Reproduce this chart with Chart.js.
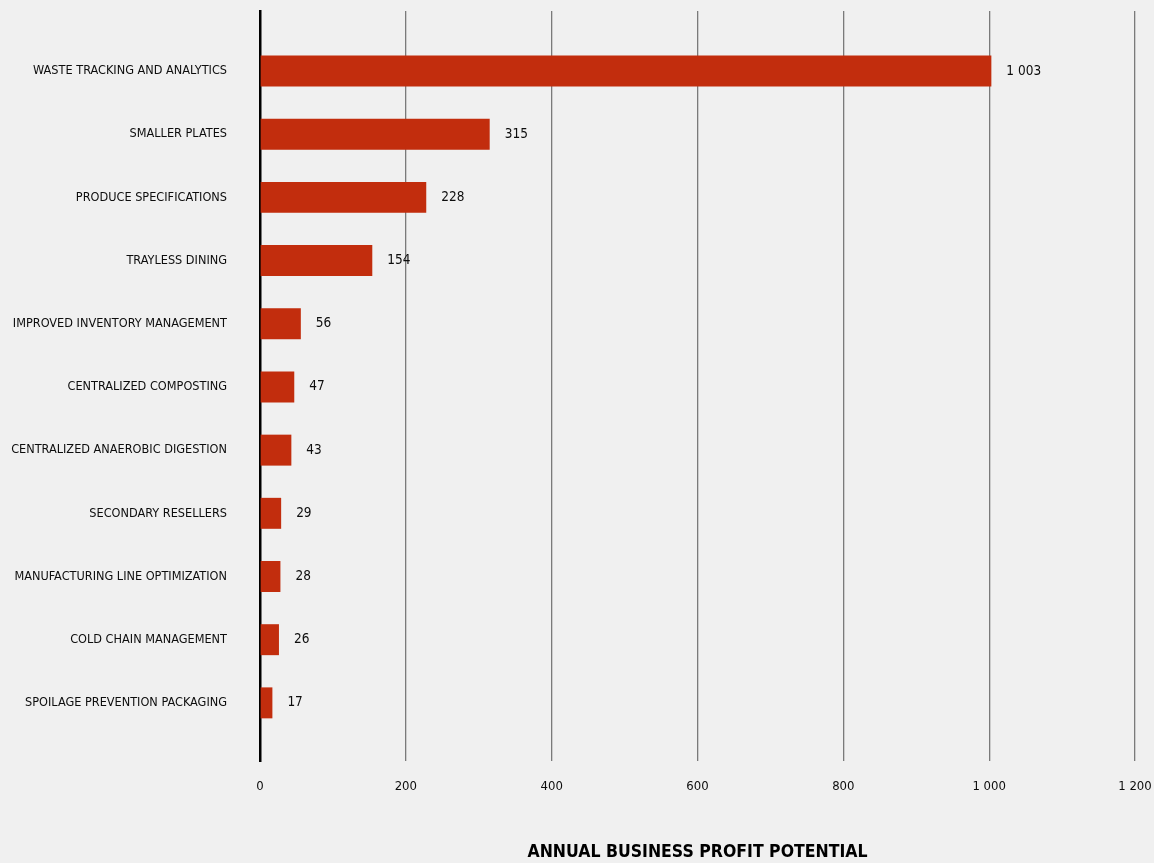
<!DOCTYPE html>
<html>
<head>
<meta charset="utf-8">
<script src="https://cdn.jsdelivr.net/npm/chart.js@4.4.0/dist/chart.umd.min.js"></script>
<style>
  html, body { margin: 0; padding: 0; background: #f0f0f0; }
  #wrap { width: 1154px; height: 863px; }
</style>
</head>
<body>
<div id="wrap"><canvas id="chart"></canvas></div>
<script>
// Datos del gráfico
const categories = [
  "WASTE TRACKING AND ANALYTICS",
  "SMALLER PLATES",
  "PRODUCE SPECIFICATIONS",
  "TRAYLESS DINING",
  "IMPROVED INVENTORY MANAGEMENT",
  "CENTRALIZED COMPOSTING",
  "CENTRALIZED ANAEROBIC DIGESTION",
  "SECONDARY RESELLERS",
  "MANUFACTURING LINE OPTIMIZATION",
  "COLD CHAIN MANAGEMENT",
  "SPOILAGE PREVENTION PACKAGING"
];
const profit = [1003, 315, 228, 154, 56, 47, 43, 29, 28, 26, 17];
const xTicks = [0, 200, 400, 600, 800, 1000, 1200];
const axisTitle = "ANNUAL BUSINESS PROFIT POTENTIAL";

const FONT = "'Liberation Sans Narrow', 'DejaVu Sans Condensed', 'DejaVu Sans', sans-serif";

// separador de miles con espacio
function fmt(n) {
  return String(n).replace(/\B(?=(\d{3})+(?!\d))/g, " ");
}

// etiquetas de valor al final de cada barra
const valueLabels = {
  id: "valueLabels",
  afterDatasetsDraw(chart) {
    const ctx = chart.ctx;
    const meta = chart.getDatasetMeta(0);
    ctx.save();
    ctx.font = "13.5px " + FONT;
    ctx.fillStyle = "#0d0d0d";
    ctx.textAlign = "left";
    ctx.textBaseline = "middle";
    meta.data.forEach((bar, i) => {
      ctx.fillText(fmt(profit[i]), bar.x + 15, bar.y);
    });
    ctx.restore();
  }
};

const ctx = document.getElementById("chart").getContext("2d");

new Chart(ctx, {
  type: "bar",
  data: {
    datasets: [{
      data: profit.map((v, i) => ({ x: v, y: i })),
      backgroundColor: "#c22d0d",
      barPercentage: 0.49,
      categoryPercentage: 1
    }]
  },
  options: {
    indexAxis: "y",
    responsive: true,
    maintainAspectRatio: false,
    animation: false,
    layout: { padding: { top: 11, right: 19, bottom: 0, left: 0 } },
    plugins: {
      legend: { display: false },
      tooltip: { enabled: false }
    },
    scales: {
      x: {
        type: "linear",
        position: "bottom",
        min: 0,
        max: 1200,
        afterBuildTicks: s => { s.ticks = xTicks.map(v => ({ value: v })); },
        afterFit: s => {
          s.height = 102;
          s.paddingLeft = 0;
          s.paddingRight = 0;
        },
        grid: {
          color: c => (c.tick && c.tick.value === 0) ? "rgba(0,0,0,0)" : "#7a7a7a",
          lineWidth: 1.3,
          drawTicks: false
        },
        border: { display: false },
        ticks: {
          padding: 18,
          color: "#0d0d0d",
          font: { family: FONT, size: 13 },
          callback: v => fmt(v)
        },
        title: {
          display: true,
          text: axisTitle,
          color: "#000",
          font: { family: FONT, size: 17.5, weight: "bold" },
          padding: { top: 0, bottom: 0 }
        }
      },
      y: {
        type: "linear",
        reverse: true,
        offset: false,
        min: -0.95,
        max: 10.92,
        afterBuildTicks: s => { s.ticks = categories.map((c, i) => ({ value: i })); },
        afterFit: s => {
          s.width = 260;
          s.paddingTop = 0;
          s.paddingBottom = 0;
        },
        grid: { display: false, drawTicks: false },
        border: { display: true, color: "#000", width: 2.5 },
        ticks: {
          padding: 33,
          autoSkip: false,
          color: "#0d0d0d",
          font: { family: FONT, size: 12.6 },
          callback: v => categories[v] ?? ""
        }
      }
    }
  },
  plugins: [valueLabels]
});
</script>
</body>
</html>
